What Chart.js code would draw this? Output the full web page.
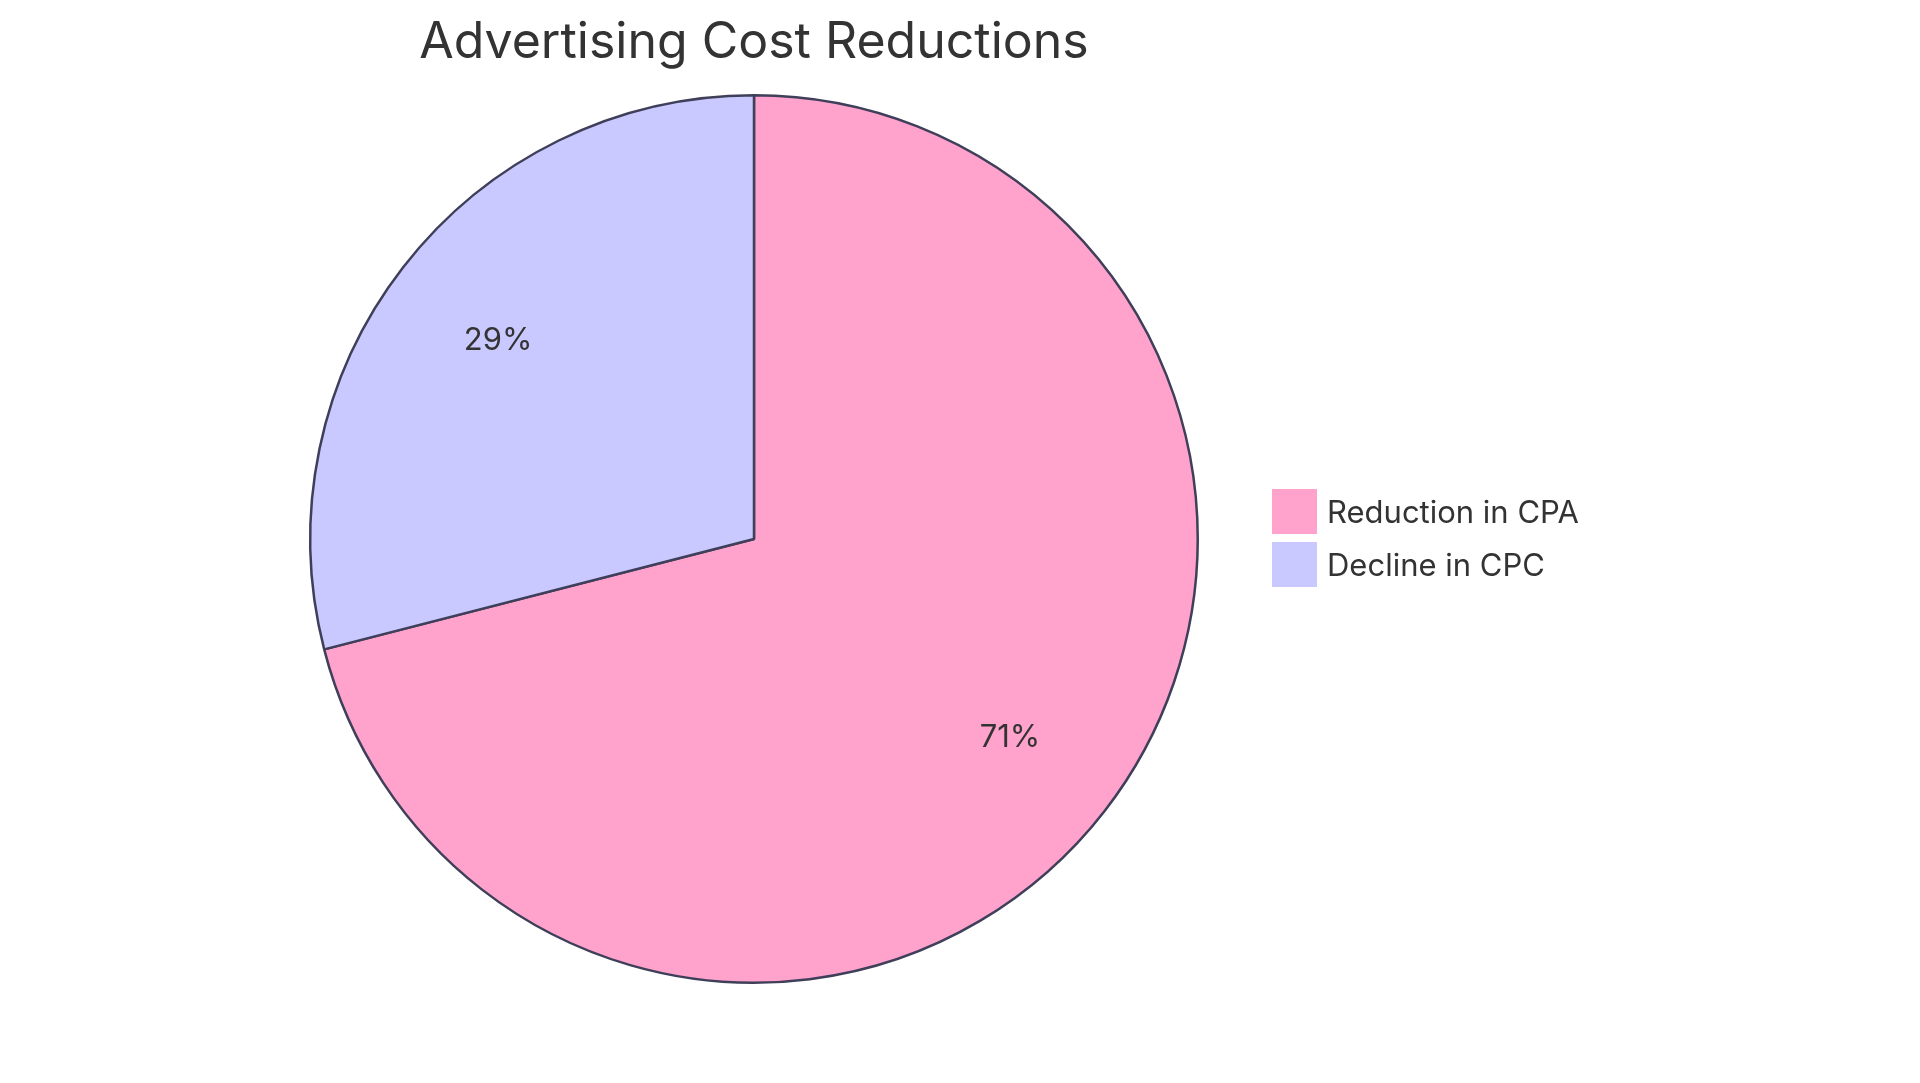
<!DOCTYPE html>
<html><head><meta charset="utf-8">
<script src="https://cdn.jsdelivr.net/npm/chart.js@4"></script>
<style>
html,body{margin:0;padding:0;background:#fff;width:1920px;height:1083px;overflow:hidden;font-family:Inter,"Noto Sans",sans-serif;color:#333}
#wrap{position:absolute;left:0;top:0;width:1920px;height:1083px}
#title{position:absolute;left:0;width:1508px;top:10px;text-align:center;font-size:50px;color:#333}
#legend{position:absolute;left:1272px;top:485px;font-size:31px;color:#333}
.item{display:flex;align-items:center;height:53px}
.box{width:45px;height:45px;margin-right:10px}
</style></head><body>
<div id="wrap"><canvas id="c" width="1920" height="1083"></canvas></div>
<div id="title">Advertising Cost Reductions</div>
<div id="legend"></div>
<script>
const categories=["Reduction in CPA","Decline in CPC"];
const values=[71,29];
const colors=["#FFA3CD","#C9C9FF"];
const lg=document.getElementById('legend');
categories.forEach((c,i)=>{lg.innerHTML+=`<div class="item"><div class="box" style="background:${colors[i]}"></div><span>${c}</span></div>`;});
const labelPlugin={id:'pl',afterDatasetsDraw(ch){
  const ctx=ch.ctx,meta=ch.getDatasetMeta(0),tot=values.reduce((a,b)=>a+b,0);
  ctx.save();ctx.font='31px Inter, sans-serif';ctx.fillStyle='#333';ctx.textAlign='center';ctx.textBaseline='middle';
  meta.data.forEach((a,i)=>{const m=(a.startAngle+a.endAngle)/2,r=a.outerRadius*0.73;
    ctx.fillText(Math.round(values[i]/tot*100)+'%',a.x+Math.cos(m)*r,a.y+Math.sin(m)*r);});
  ctx.restore();}};
new Chart(document.getElementById('c'),{type:'pie',
 data:{labels:categories,datasets:[{data:values,backgroundColor:colors,borderColor:'#3F3F5A',borderWidth:2.5}]},
 options:{responsive:false,animation:false,
  layout:{padding:{left:309,right:721,top:94,bottom:99}},
  plugins:{legend:{display:false},tooltip:{enabled:false},title:{display:false}}},
 plugins:[labelPlugin]});
</script></body></html>
